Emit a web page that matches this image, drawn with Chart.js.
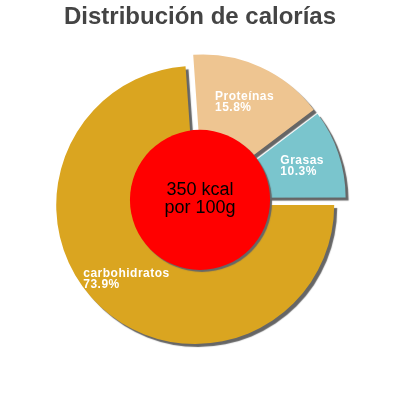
<!DOCTYPE html>
<html>
<head>
<meta charset="utf-8">
<script src="https://cdn.jsdelivr.net/npm/chart.js@4"></script>
<style>
html,body{margin:0;padding:0;background:#fff;}
#wrap{width:400px;height:400px;}
</style>
</head>
<body>
<div id="wrap"><canvas id="c" width="400" height="400"></canvas></div>
<script>
const categories = ['Proteínas', 'Grasas', 'carbohidratos'];
const values = [15.8, 10.3, 73.9];
const sliceColors = ['#EEC591', '#7AC5CD', '#DAA520'];
const titleText = 'Distribución de calorías';
const centerLines = ['350 kcal', 'por 100g'];

const EXPLODE = 7;
const SHADOW = '#666666';

const explodedShadowPlugin = {
  id: 'explodedShadow',
  beforeDatasetDraw(chart, args) {
    const ctx = chart.ctx;
    const meta = args.meta;
    meta.data.forEach(arc => {
      const p = arc.getProps(['startAngle', 'endAngle'], true);
      const mid = (p.startAngle + p.endAngle) / 2;
      ctx.save();
      ctx.translate(Math.cos(mid) * EXPLODE, Math.sin(mid) * EXPLODE);
      ctx.shadowColor = SHADOW;
      ctx.shadowOffsetX = 3;
      ctx.shadowOffsetY = 3;
      ctx.shadowBlur = 1;
      arc.draw(ctx);
      ctx.restore();
    });
    return false;
  }
};

const labelsPlugin = {
  id: 'sliceLabels',
  afterDatasetsDraw(chart) {
    const ctx = chart.ctx;
    const meta = chart.getDatasetMeta(0);
    ctx.save();
    ctx.font = 'bold 12px "Liberation Sans", Arial, sans-serif';
    try { ctx.letterSpacing = '0.5px'; } catch (e) {}
    ctx.fillStyle = '#ffffff';
    ctx.textAlign = 'left';
    ctx.textBaseline = 'alphabetic';
    meta.data.forEach((arc, i) => {
      const p = arc.getProps(['x', 'y', 'startAngle', 'endAngle', 'outerRadius'], true);
      const mid = (p.startAngle + p.endAngle) / 2;
      const cx = p.x + Math.cos(mid) * EXPLODE;
      const cy = p.y + Math.sin(mid) * EXPLODE;
      const r = p.outerRadius * 0.725;
      const bx = cx + Math.cos(mid) * r;
      const by = cy + Math.sin(mid) * r;
      const l1 = categories[i];
      const l2 = values[i].toFixed(1) + '%';
      const w = Math.max(ctx.measureText(l1).width, ctx.measureText(l2).width);
      const left = bx - w / 2;
      ctx.fillText(l1, left, by - 1.5);
      ctx.fillText(l2, left, by + 9.5);
    });
    ctx.restore();

    // centre disc
    const a0 = meta.data[0].getProps(['x', 'y', 'outerRadius'], true);
    ctx.save();
    ctx.beginPath();
    ctx.arc(a0.x, a0.y, a0.outerRadius * 0.504, 0, Math.PI * 2);
    ctx.fillStyle = '#FF0000';
    ctx.shadowColor = SHADOW;
    ctx.shadowOffsetX = 2;
    ctx.shadowOffsetY = 2;
    ctx.shadowBlur = 1;
    ctx.fill();
    ctx.restore();

    ctx.save();
    ctx.fillStyle = '#000000';
    ctx.font = '18px "Liberation Sans", Arial, sans-serif';
    ctx.textAlign = 'center';
    ctx.textBaseline = 'alphabetic';
    ctx.fillText(centerLines[0], a0.x, a0.y - 5);
    ctx.fillText(centerLines[1], a0.x, a0.y + 13.5);
    ctx.restore();
  }
};

new Chart(document.getElementById('c'), {
  type: 'pie',
  data: {
    labels: categories,
    datasets: [{
      data: values,
      backgroundColor: sliceColors,
      borderWidth: 0,
      offset: 0
    }]
  },
  options: {
    responsive: false,
    animation: false,
    devicePixelRatio: 1,
    rotation: -4,
    layout: { padding: { left: 61, right: 61, top: 0, bottom: 61 } },
    plugins: {
      legend: { display: false },
      tooltip: { enabled: false },
      title: {
        display: true,
        text: titleText,
        color: '#444444',
        font: { family: '"Liberation Sans", Arial, sans-serif', size: 24, weight: 'bold', lineHeight: 1.2 },
        padding: { top: 3, bottom: 29 }
      }
    }
  },
  plugins: [explodedShadowPlugin, labelsPlugin]
});
</script>
</body>
</html>
